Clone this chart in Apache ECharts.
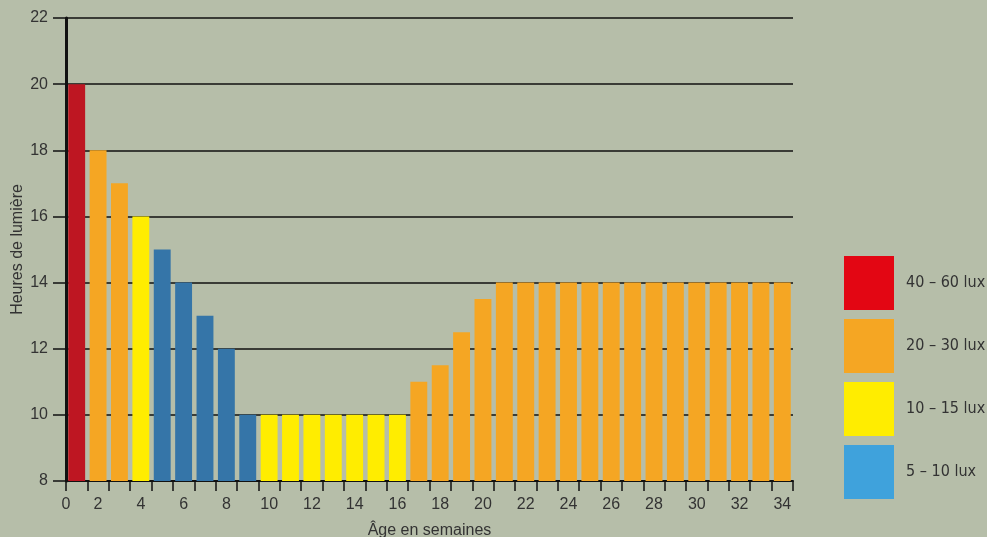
<!DOCTYPE html>
<html>
<head>
<meta charset="utf-8">
<script src="https://cdn.jsdelivr.net/npm/echarts@6/dist/echarts.min.js"></script>
<style>
html,body{margin:0;padding:0;background:#b6bea9;}
#c{width:987px;height:537px;}
</style>
</head>
<body>
<div id="c"></div>
<script>
// Data
var weeks = ['1','2','3','4','5','6','7','8','9','10','11','12','13','14','15','16','17','18','19','20','21','22','23','24','25','26','27','28','29','30','31','32','33','34'];
var hours = [20,18,17,16,15,14,13,12,10,10,10,10,10,10,10,10,11,11.5,12.5,13.5,14,14,14,14,14,14,14,14,14,14,14,14,14,14];
// lux class per week: 0 = 40–60, 1 = 20–30, 2 = 10–15, 3 = 5–10
var luxClass = [0,1,1,2,3,3,3,3,3,2,2,2,2,2,2,2,1,1,1,1,1,1,1,1,1,1,1,1,1,1,1,1,1,1];
var luxNames = ['40 – 60 lux','20 – 30 lux','10 – 15 lux','5 – 10 lux'];
var barColors = ['#be1622','#f5a623','#ffed00','#3575a8'];
var legendColors = ['#e30613','#f5a623','#ffed00','#3fa2dc'];
var yTicks = {min: 8, max: 22, interval: 2};

var series = luxNames.map(function(name, k){
  return {
    name: name,
    type: 'bar',
    stack: 'all',
    xAxisIndex: 0,
    barCategoryGap: '21%',
    itemStyle: {color: barColors[k]},
    emphasis: {disabled: true},
    data: hours.map(function(h, i){ return luxClass[i] === k ? h : '-'; })
  };
});

var txt = '#333';
var numFont = "'Liberation Sans', sans-serif";
var chart = echarts.init(document.getElementById('c'), null, {renderer: 'canvas'});
chart.setOption({
  animation: false,
  backgroundColor: '#b6bea9',
  grid: {left: 66, right: 194, top: 18, bottom: 56, containLabel: false, outerBoundsMode: 'none'},
  legend: {
    orient: 'vertical',
    left: 844,
    top: 256,
    padding: 0,
    itemWidth: 50,
    itemHeight: 54,
    itemGap: 9,
    icon: 'rect',
    selectedMode: false,
    textStyle: {color: txt, fontSize: 16, fontFamily: "'Liberation Sans Narrow', 'DejaVu Sans Condensed', 'Liberation Sans', sans-serif", padding: [0,0,0,7]},
    data: luxNames.map(function(n, k){ return {name: n, itemStyle: {color: legendColors[k]}}; })
  },
  xAxis: [{
    type: 'category',
    data: weeks,
    position: 'bottom',
    name: 'Âge en semaines',
    nameLocation: 'middle',
    nameGap: 42,
    nameMoveOverlap: false,
    nameTextStyle: {color: txt, fontSize: 16, fontFamily: numFont},
    axisLine: {lineStyle: {color: '#111', width: 2}},
    axisTick: {show: true, interval: 0, length: 10, lineStyle: {color: '#111', width: 1.5}},
    axisLabel: {
      interval: function(index){ return index % 2 === 1; },
      margin: 16, color: txt, fontSize: 16, fontFamily: numFont
    },
    splitLine: {show: false}
  }, {
    type: 'value',
    position: 'bottom',
    min: 0, max: 34, interval: 34,
    axisLine: {show: false},
    axisTick: {show: false},
    splitLine: {show: false},
    axisLabel: {
      margin: 16, color: txt, fontSize: 16, fontFamily: numFont,
      formatter: function(v){ return v === 0 ? '0' : ''; }
    }
  }],
  yAxis: {
    type: 'value',
    min: yTicks.min, max: yTicks.max, interval: yTicks.interval,
    name: 'Heures de lumière',
    nameLocation: 'middle',
    nameGap: 40,
    nameMoveOverlap: false,
    nameTextStyle: {color: txt, fontSize: 16, fontFamily: numFont},
    axisLine: {show: true, lineStyle: {color: '#111', width: 3}},
    axisTick: {show: true, length: 13, lineStyle: {color: '#111', width: 1.5}},
    axisLabel: {margin: 18, color: txt, fontSize: 16, fontFamily: numFont},
    splitLine: {show: true, lineStyle: {color: '#111', width: 1.5}}
  },
  series: series
});
</script>
</body>
</html>
